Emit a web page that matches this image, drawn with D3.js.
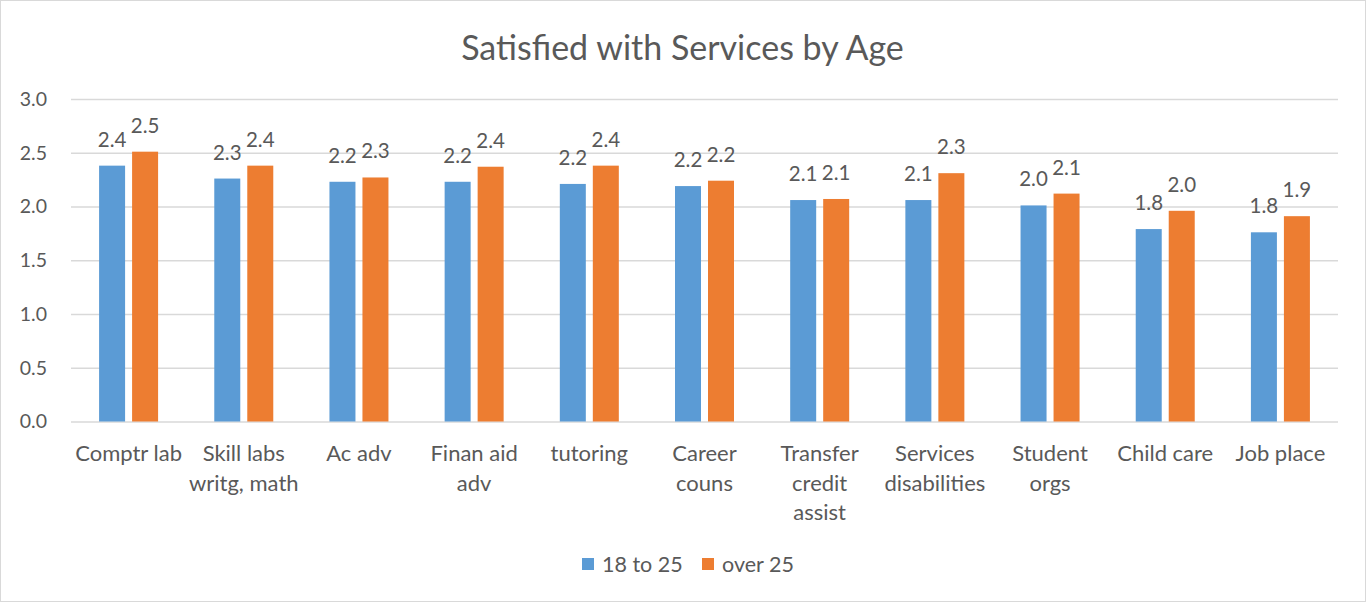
<!DOCTYPE html>
<html>
<head>
<meta charset="utf-8">
<script src="https://cdn.jsdelivr.net/npm/d3@7"></script>
<style>
  body { margin: 0; background: #fff; }
  svg text { font-family: Lato, "Open Sans", sans-serif; fill: #595959; }
</style>
</head>
<body>
<div id="chart"></div>
<script>
const categories = [
  'Comptr lab', 'Skill labs writg, math', 'Ac adv', 'Finan aid adv', 'tutoring',
  'Career couns', 'Transfer credit assist', 'Services disabilities',
  'Student orgs', 'Child care', 'Job place'
];
// label lines as shown under the axis
const categoryLines = [
  ['Comptr lab'], ['Skill labs', 'writg, math'], ['Ac adv'], ['Finan aid', 'adv'],
  ['tutoring'], ['Career', 'couns'], ['Transfer', 'credit', 'assist'],
  ['Services', 'disabilities'], ['Student', 'orgs'], ['Child care'], ['Job place']
];
const seriesNames = ['18 to 25', 'over 25'];
const young = [2.38, 2.26, 2.23, 2.23, 2.21, 2.19, 2.06, 2.06, 2.01, 1.79, 1.76];
const older = [2.51, 2.38, 2.27, 2.37, 2.38, 2.24, 2.07, 2.31, 2.12, 1.96, 1.91];
const yTicks = [0, 0.5, 1, 1.5, 2, 2.5, 3];
const colors = ['#5B9BD5', '#ED7D31'];

const W = 1367, H = 603;
const margin = { top: 99, right: 29, bottom: 181, left: 71 };

const svg = d3.select('#chart').append('svg')
  .attr('width', W).attr('height', H);

svg.append('rect')
  .attr('x', 0.5).attr('y', 0.5)
  .attr('width', W - 2).attr('height', H - 2)
  .attr('fill', '#fff').attr('stroke', '#d9d9d9');

svg.append('text')
  .attr('x', W / 2 - 1).attr('y', 60)
  .attr('text-anchor', 'middle')
  .style('font-size', '34px')
  .text('Satisfied with Services by Age');

const x0 = d3.scaleBand().domain(categories)
  .range([margin.left, W - margin.right]).padding(0);
const groupW = 59;
const x1 = d3.scaleBand().domain(seriesNames)
  .range([(x0.bandwidth() - groupW) / 2, (x0.bandwidth() + groupW) / 2])
  .paddingInner(7 / 33);
const y = d3.scaleLinear().domain([0, 3]).range([H - margin.bottom - 0.5, margin.top]);

// grid + y labels
const yAxis = svg.append('g')
  .attr('transform', `translate(${margin.left},0)`)
  .call(d3.axisLeft(y).tickValues(yTicks).tickFormat(d3.format('.1f'))
    .tickSize(-(W - margin.left - margin.right)).tickPadding(24));
yAxis.select('.domain').remove();
yAxis.selectAll('.tick line').attr('stroke', '#d9d9d9').attr('stroke-width', 1.3);
yAxis.selectAll('.tick text').style('font-size', '19.5px').attr('fill', '#595959');

const data = categories.map((c, i) => ({ c, i, vals: [young[i], older[i]] }));

const groups = svg.append('g').selectAll('g')
  .data(data).join('g')
  .attr('transform', d => `translate(${x0(d.c)},0)`);

groups.selectAll('rect')
  .data(d => d.vals.map((v, k) => ({ s: seriesNames[k], v, k })))
  .join('rect')
  .attr('x', d => x1(d.s))
  .attr('width', x1.bandwidth())
  .attr('y', d => y(d.v))
  .attr('height', d => y(0) - y(d.v))
  .attr('fill', d => colors[d.k]);

groups.selectAll('text.val')
  .data(d => d.vals.map((v, k) => ({ s: seriesNames[k], v, k })))
  .join('text')
  .attr('class', 'val')
  .attr('x', d => x1(d.s) + x1.bandwidth() / 2)
  .attr('y', d => y(d.v) - 19)
  .attr('text-anchor', 'middle')
  .style('font-size', '20.5px')
  .text(d => d3.format('.1f')(d.v));

// category labels
groups.append('text')
  .attr('text-anchor', 'middle')
  .style('font-size', '22px')
  .selectAll('tspan')
  .data(d => categoryLines[d.i])
  .join('tspan')
  .attr('x', x0.bandwidth() / 2)
  .attr('y', (d, j) => 461 + j * 29.5)
  .text(d => d);

// legend
const legend = svg.append('g');
const legendItems = [
  { name: seriesNames[0], x: 582, color: colors[0] },
  { name: seriesNames[1], x: 702, color: colors[1] }
];
legendItems.forEach(it => {
  legend.append('rect').attr('x', it.x).attr('y', 558)
    .attr('width', 12).attr('height', 12).attr('fill', it.color);
  legend.append('text').attr('x', it.x + 20).attr('y', 572)
    .style('font-size', '21.5px').text(it.name);
});
</script>
</body>
</html>
